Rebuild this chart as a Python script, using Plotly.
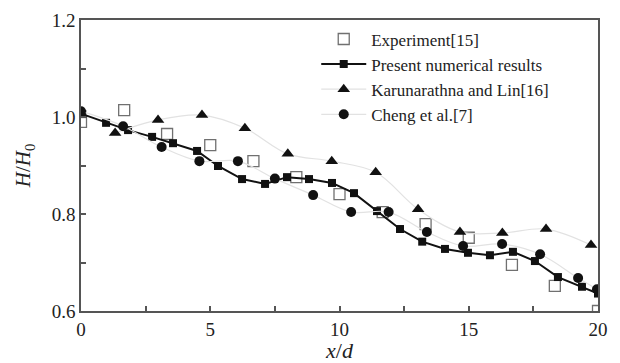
import plotly.graph_objects as go

# Experiment [15]
exp_x = [0, 1.67, 3.33, 5.0, 6.67, 8.33, 10.0, 11.67, 13.33, 15.0, 16.67, 18.33, 20.0]
exp_y = [0.990, 1.014, 0.965, 0.942, 0.909, 0.876, 0.841, 0.804, 0.779, 0.751, 0.695, 0.652, 0.600]

# Present numerical results
num_x = [0.05, 0.97, 1.82, 2.75, 3.56, 4.49, 5.3, 6.23, 7.12, 7.97, 8.82, 9.71, 10.56,
         11.45, 12.34, 13.2, 14.08, 14.97, 15.82, 16.71, 17.56, 18.45, 19.38, 20.0]
num_y = [1.006, 0.988, 0.973, 0.959, 0.946, 0.930, 0.899, 0.872, 0.862, 0.876, 0.872, 0.864, 0.843,
         0.806, 0.769, 0.743, 0.728, 0.720, 0.715, 0.722, 0.703, 0.670, 0.650, 0.636]

# Karunarathna and Lin [16]
kl_x = [1.32, 2.98, 4.68, 6.34, 8.0, 9.7, 11.4, 13.04, 14.66, 16.3, 17.99, 19.73]
kl_y = [0.967, 0.994, 1.004, 0.977, 0.924, 0.909, 0.886, 0.810, 0.763, 0.761, 0.769, 0.736]

# Cheng et al. [7]
ch_x = [0.0, 1.63, 3.12, 4.58, 6.07, 7.5, 8.98, 10.45, 11.9, 13.38, 14.78, 16.29, 17.76, 19.23, 19.96]
ch_y = [1.012, 0.981, 0.938, 0.909, 0.909, 0.873, 0.839, 0.804, 0.804, 0.763, 0.734, 0.738, 0.717, 0.668, 0.645]

FONT = "Times New Roman, Liberation Serif, DejaVu Serif, serif"

fig = go.Figure()
fig.add_trace(go.Scatter(
    x=exp_x, y=exp_y, mode="markers", name="Experiment[15]",
    marker=dict(symbol="square-open", size=11, color="#707070", line=dict(width=1.3))))
fig.add_trace(go.Scatter(
    x=num_x, y=num_y, mode="lines+markers", name="Present numerical results",
    line=dict(color="#111111", width=2),
    marker=dict(symbol="square", size=8, color="#111111")))
fig.add_trace(go.Scatter(
    x=kl_x, y=kl_y, mode="lines+markers", name="Karunarathna and Lin[16]",
    line=dict(color="#e2e2e2", width=1.2, shape="spline"),
    marker=dict(symbol="triangle-up", size=11, color="#111111")))
fig.add_trace(go.Scatter(
    x=ch_x, y=ch_y, mode="lines+markers", name="Cheng et al.[7]",
    line=dict(color="#e2e2e2", width=1.2, shape="spline"),
    marker=dict(symbol="circle", size=10, color="#111111")))

axis_common = dict(
    showline=True, linecolor="#555555", linewidth=1.5, mirror=True,
    ticks="inside", ticklen=5, tickcolor="#555555", tickwidth=1.5,
    showgrid=False, zeroline=False, automargin=False,
    tickfont=dict(family=FONT, size=19, color="#222222"),
)

fig.update_xaxes(
    range=[0, 20], tickvals=[0, 5, 10, 15, 20],
    minor=dict(tickvals=[2.5, 7.5, 12.5, 17.5], ticks="inside", ticklen=5,
               tickcolor="#555555", tickwidth=1.5),
    title=dict(text="<i>x</i>/<i>d</i>", font=dict(family=FONT, size=22, color="#222222"), standoff=7),
    **axis_common)
fig.update_yaxes(
    range=[0.6, 1.2], tickvals=[0.6, 0.8, 1.0, 1.2], ticktext=["0.6", "0.8", "1.0", "1.2"],
    minor=dict(tickvals=[0.7, 0.9, 1.1], ticks="inside", ticklen=5,
               tickcolor="#555555", tickwidth=1.5),
    title=dict(text="<i>H</i>/<i>H</i><sub>0</sub>", font=dict(family=FONT, size=21, color="#222222"), standoff=15),
    **axis_common)

fig.update_layout(
    width=620, height=363,
    margin=dict(l=81, r=22, t=20, b=52),
    plot_bgcolor="white", paper_bgcolor="white",
    font=dict(family=FONT, color="#222222"),
    legend=dict(x=0.455, y=0.995, xanchor="left", yanchor="top",
                bgcolor="rgba(0,0,0,0)", font=dict(family=FONT, size=17, color="#222222"),
                tracegroupgap=0, itemwidth=45),
)

fig.write_html("out.html")
